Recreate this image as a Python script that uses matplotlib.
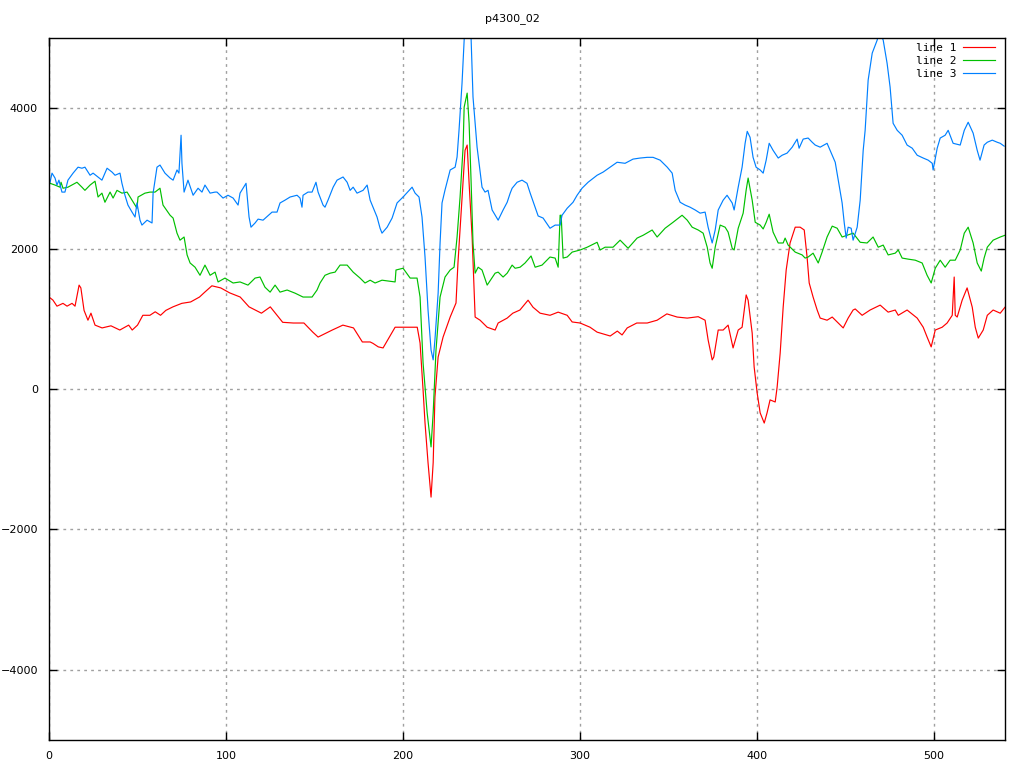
import matplotlib
matplotlib.use('Agg')
import matplotlib.pyplot as plt
from matplotlib.lines import Line2D

# line 1 (red)
x1 = [0, 2.2, 4.5, 7.9, 10.2, 13, 14.7, 17, 18, 19.8, 22, 23.7, 26, 30, 35, 40, 45, 47, 50, 53,
      57, 60, 63, 66, 70, 75, 80, 85, 88, 92, 97, 102, 108, 113, 120, 125, 132, 138, 144, 149,
      152, 160, 166, 172, 177, 181.4, 183, 186, 188.7, 195.5, 200, 208, 209.6, 211.3, 212.4,
      214.1, 215.8, 217, 218, 219.8, 222.6, 226.6, 229.9, 231, 233.3, 235, 236.2, 237.3, 239,
      240.7, 243.5, 247.5, 252, 253.7, 258.8, 262, 266, 270.6, 273.4, 277.4, 283, 287.6, 292.7,
      295.5, 300, 305.6, 309.6, 317, 321, 323.7, 326.6, 332, 337.9, 343.5, 349, 354.8, 360.5,
      366.7, 370.6, 372.3, 374.6, 375.5, 378, 380.8, 383.6, 386.4, 389.3, 391.5, 393.8, 394.9,
      397.2, 398.3, 400, 401.7, 404, 405.6, 407.3, 410.2, 411.3, 413, 414.7, 416.4, 418.6,
      421.5, 424.3, 426.6, 428.2, 429.4, 431.6, 433.9, 435.6, 439.5, 442.4, 445.2, 448.6,
      451.4, 454.2, 455.4, 459.3, 463.8, 469.5, 474, 478, 479.7, 484.7, 490.4, 493.8, 496,
      498.3, 500.6, 504.5, 507.3, 510.2, 511.3, 511.9, 513, 515.8, 518.6, 521.5, 523.2, 524.9,
      527.7, 530, 533.3, 537.3, 540]
y1 = [1310, 1267, 1180, 1220, 1180, 1220, 1180, 1480, 1440, 1120, 980, 1080, 910, 870, 900, 840,
      910, 840, 910, 1050, 1050, 1100, 1050, 1120, 1170, 1220, 1240, 1310, 1380, 1470, 1440,
      1370, 1310, 1170, 1080, 1170, 950, 940, 940, 810, 740, 840, 910, 870, 670, 670, 650, 600,
      585, 880, 880, 880, 655, -15, -485, -1050, -1540, -1050, -115, 455, 740, 1025, 1225,
      1795, 2730, 3400, 3475, 2930, 2165, 1025, 980, 880, 840, 940, 1010, 1080, 1125, 1265,
      1165, 1080, 1050, 1095, 1050, 955, 940, 880, 810, 755, 825, 770, 870, 940, 940, 980,
      1070, 1025, 1010, 1030, 980, 700, 415, 455, 840, 840, 910, 585, 840, 880, 1340, 1265,
      795, 315, -55, -340, -485, -340, -155, -185, 30, 510, 1165, 1695, 2080, 2305, 2305,
      2265, 1880, 1510, 1310, 1125, 1010, 980, 1025, 955, 870, 1010, 1125, 1140, 1050, 1125,
      1195, 1095, 1125, 1050, 1125, 1010, 880, 740, 600, 840, 880, 940, 1050, 1595, 1050,
      1025, 1265, 1440, 1165, 880, 725, 840, 1050, 1125, 1080, 1165]

# line 2 (green)
x2 = [0.6, 3.4, 6.2, 6.8, 7.9, 10.7, 15.8, 18.6, 20.3, 23.2, 26, 27.7, 29.9, 31.6, 34.5, 36.2,
      38.4, 41.2, 44.1, 46.9, 49.7, 50.3, 54.2, 57.1, 59.9, 62.7, 64.4, 68.4, 70.1, 72.3, 74,
      76.3, 78, 79.7, 82.5, 85.3, 88.1, 91, 93.8, 95.5, 99.4, 104, 107.9, 112.4, 116.4, 119.2,
      122, 124.9, 127.7, 130.5, 134.5, 139, 143.5, 148.6, 151.4, 153.1, 155.9, 158.8, 161.6,
      164.4, 168.4, 171.8, 175.7, 178.5, 181.4, 184.2, 188.1, 195.5, 196, 200, 204, 207.9,
      209.6, 211.3, 213.6, 215.3, 215.8, 217, 218.6, 220.9, 223.7, 226.6, 228.8, 230.5, 232.2,
      233.9, 234.5, 236.2, 237.3, 238.4, 239.5, 240.7, 242.4, 244.6, 247.5, 252, 253.7, 256.5,
      258.8, 261.6, 263.3, 266.1, 268.9, 272.3, 274.6, 278.5, 283, 285.9, 287.6, 288.7, 289.3,
      290.4, 292.7, 295.5, 300, 304, 309.6, 311.3, 314.1, 318.6, 322.6, 327.1, 332.2, 335.6,
      340.7, 343.5, 348, 352.5, 357.6, 360.5, 363.3, 366.7, 369.5, 371.8, 373.4, 374.6, 376.3,
      379.1, 381.9, 383.6, 385.9, 387, 389.3, 392.1, 393.8, 394.9, 397.2, 398.9, 401.7, 403.4,
      405.1, 406.8, 409, 411.9, 414.7, 415.8, 417.5, 421.5, 425.4, 427.1, 428.8, 431.6, 434.5,
      436.7, 439.5, 442.4, 445.2, 448, 450.8, 454.2, 458.2, 462.1, 465.5, 468.4, 471.2, 474,
      478, 479.7, 481.9, 485.3, 489.3, 493.2, 496, 498.3, 500.6, 503.4, 506.2, 509, 511.9,
      514.7, 517, 519.2, 522, 524.3, 526.6, 528.2, 530, 533.3, 537.3, 540]
y2 = [2930, 2905, 2875, 2945, 2860, 2875, 2945, 2875, 2830, 2905, 2960, 2735, 2790, 2660, 2805,
      2720, 2830, 2790, 2805, 2690, 2575, 2735, 2790, 2805, 2805, 2860, 2620, 2475, 2435, 2220,
      2120, 2165, 1910, 1795, 1735, 1620, 1765, 1620, 1665, 1525, 1580, 1510, 1525, 1480, 1580,
      1595, 1450, 1380, 1480, 1380, 1410, 1365, 1310, 1310, 1410, 1510, 1620, 1650, 1665, 1765,
      1765, 1665, 1580, 1510, 1550, 1510, 1550, 1525, 1695, 1720, 1580, 1580, 1310, 370, -340,
      -725, -825, -340, 555, 1310, 1595, 1695, 1735, 2165, 2735, 3445, 4015, 4215, 3785, 2975,
      2080, 1650, 1735, 1695, 1480, 1650, 1665, 1595, 1650, 1765, 1720, 1735, 1795, 1895, 1735,
      1765, 1880, 1865, 1735, 2475, 2475, 1865, 1880, 1950, 1980, 2020, 2090, 1980, 2020, 2020,
      2120, 2005, 2150, 2190, 2265, 2165, 2290, 2375, 2475, 2405, 2305, 2265, 2220, 2020, 1795,
      1720, 2020, 2335, 2305, 2235, 2005, 1980, 2290, 2505, 2835, 3005, 2690, 2375, 2335, 2280,
      2375, 2490, 2235, 2080, 2080, 2150, 2050, 1950, 1910, 1865, 1880, 1935, 1795, 1950, 2165,
      2320, 2290, 2165, 2190, 2220, 2090, 2080, 2165, 2020, 2050, 1910, 1935, 1980, 1865, 1850,
      1835, 1795, 1620, 1510, 1720, 1835, 1735, 1835, 1835, 1980, 2220, 2305, 2080, 1795, 1680,
      1865, 2020, 2120, 2165, 2190]

# line 3 (blue)
x3 = [0.6, 1.7, 3.4, 4.5, 5.6, 7.3, 9, 10.7, 13.6, 16.4, 18.6, 20.3, 23.2, 24.9, 27.7, 29.9,
      32.8, 35.6, 37.3, 40.1, 41.2, 42.9, 44.6, 46.9, 48.6, 49.7, 51.4, 52.5, 55.4, 58.2, 58.8,
      61, 62.7, 65.5, 68.4, 70.1, 72.3, 73.4, 74.6, 75.1, 76.3, 78.5, 81.4, 84.2, 86.4, 88.1,
      91, 93.8, 94.9, 98.3, 101.1, 104, 106.8, 107.9, 111.3, 113, 114.1, 116.4, 118.1, 120.9,
      126, 128.8, 130.5, 133.3, 136.2, 140.1, 141.8, 142.9, 143.5, 146.3, 148.6, 150.8, 152,
      154.8, 155.9, 157.6, 160.5, 162.7, 166.1, 168.4, 170.1, 171.8, 174, 177.4, 179.7, 181.4,
      184.2, 185.3, 187, 188.1, 191, 193.8, 196.6, 200, 205.1, 206.8, 209, 210.7, 212.4, 214.1,
      215.8, 217, 218, 219.8, 220.9, 222, 223.7, 226.6, 229.4, 230.5, 231.6, 233.3, 234.5,
      236.2, 238.4, 239.5, 241.8, 244.6, 246.3, 248, 250.3, 253.7, 256.5, 258.8, 260.5, 261.6,
      264.4, 267.2, 270, 271.8, 274.6, 276.3, 279.1, 283, 285.9, 288.7, 289.8, 292.7, 296,
      298.3, 301.1, 304.5, 309.6, 313, 316.9, 320.9, 325.4, 329.9, 333.9, 337.9, 341.2, 345.2,
      349.2, 352, 353.7, 356.5, 359.3, 362.1, 365, 367.8, 370.6, 372.3, 374.6, 376.3, 378,
      380.8, 383, 385.9, 387, 389.3, 391.5, 393.2, 394.4, 396, 397.7, 399.4, 401.7, 403.4,
      405.1, 406.8, 409, 411.9, 414.1, 416.9, 419.8, 422.6, 423.7, 426, 428.8, 431.1, 432.8,
      435.6, 439.5, 441.2, 444.1, 445.8, 448, 449.2, 450.3, 451.4, 453.1, 454.2, 456.5, 458.2,
      459.9, 461, 462.7, 465, 467.8, 469, 471.2, 473.4, 475.1, 476.8, 479.1, 481.9, 484.7,
      487.6, 490.4, 493.8, 496.6, 498.9, 499.4, 501.7, 503.4, 506.2, 507.9, 510.7, 514.7, 517,
      519.2, 522, 524.3, 525.9, 528.2, 530, 532.8, 535.6, 537.3, 539.5]
y3 = [2945, 3075, 3005, 2905, 2975, 2805, 2805, 2975, 3075, 3160, 3145, 3160, 3045, 3075, 3020,
      2975, 3145, 3090, 3045, 3075, 2930, 2760, 2620, 2520, 2450, 2650, 2405, 2335, 2405, 2365,
      2790, 3160, 3190, 3075, 3005, 2975, 3120, 3075, 3615, 3215, 2805, 2975, 2760, 2860, 2805,
      2905, 2790, 2805, 2805, 2720, 2760, 2720, 2620, 2790, 2930, 2450, 2305, 2365, 2420, 2405,
      2520, 2520, 2650, 2690, 2735, 2760, 2720, 2590, 2760, 2805, 2805, 2945, 2805, 2620, 2590,
      2690, 2875, 2975, 3020, 2945, 2830, 2875, 2790, 2830, 2905, 2690, 2520, 2450, 2290, 2220,
      2305, 2435, 2650, 2735, 2875, 2790, 2735, 2450, 1880, 1125, 555, 415, 700, 1365, 2080,
      2650, 2835, 3120, 3160, 3305, 3685, 4355, 4970, 5700, 5010, 4160, 3445, 2875, 2805, 2830,
      2550, 2405, 2550, 2660, 2790, 2860, 2945, 2975, 2930, 2790, 2590, 2465, 2435, 2290, 2335,
      2335, 2475, 2575, 2660, 2760, 2860, 2945, 3045, 3090, 3160, 3230, 3215, 3275, 3290, 3300,
      3300, 3260, 3160, 3075, 2830, 2660, 2620, 2590, 2550, 2505, 2520, 2305, 2080, 2265, 2550,
      2690, 2760, 2650, 2550, 2875, 3160, 3500, 3670, 3585, 3300, 3160, 3120, 3075, 3260, 3500,
      3400, 3290, 3330, 3360, 3445, 3560, 3430, 3560, 3575, 3515, 3475, 3445, 3500, 3400, 3230,
      2975, 2650, 2365, 2150, 2305, 2290, 2120, 2305, 2690, 3400, 3685, 4400, 4785, 4970, 5100,
      4970, 4640, 4300, 3785, 3685, 3615, 3475, 3430, 3330, 3290, 3260, 3215, 3120, 3430, 3575,
      3615, 3685, 3500, 3475, 3685, 3800, 3645, 3400, 3260, 3475, 3515, 3545, 3515, 3500, 3460]

labels = ['line 1', 'line 2', 'line 3']
colors = ['#ff0000', '#00c000', '#0080ff']
x_ticks = [0, 100, 200, 300, 400, 500]
y_ticks = [-4000, -2000, 0, 2000, 4000]

fig = plt.figure(figsize=(10.24, 7.68), dpi=100)
ax = fig.add_axes([49 / 1024, 1 - 740 / 768, 956 / 1024, 702 / 768])

for xs, ys, c in zip([x1, x2, x3], [y1, y2, y3], colors):
    ax.plot(xs, ys, color=c, linewidth=0.85)

ax.set_xlim(0, 540)
ax.set_ylim(-5000, 5000)
ax.set_xticks(x_ticks)
ax.set_yticks(y_ticks)
ax.grid(True, color='#a0a0a0', linestyle=(0, (2, 3)), linewidth=1.0)
ax.tick_params(direction='in', length=6, width=1, top=True, right=True,
               labelsize=8, pad=8, colors='black')
for s in ax.spines.values():
    s.set_linewidth(1.0)

# gnuplot style key, top right, text before sample line
handles = [Line2D([], [], color=c, linewidth=0.85) for c in colors]
ax.legend(handles, labels, loc='upper right', frameon=False, markerfirst=False,
          bbox_to_anchor=(1 - 10 / 956, 1 - 5 / 702), borderaxespad=0, borderpad=0,
          prop={'family': 'DejaVu Sans Mono', 'size': 8}, handlelength=2.9,
          labelspacing=0.25, handletextpad=0.6)

fig.text(0.5, 1 - 19 / 768, 'p4300_02', ha='center', va='center', fontsize=8)

fig.savefig('out.png', dpi=100)
